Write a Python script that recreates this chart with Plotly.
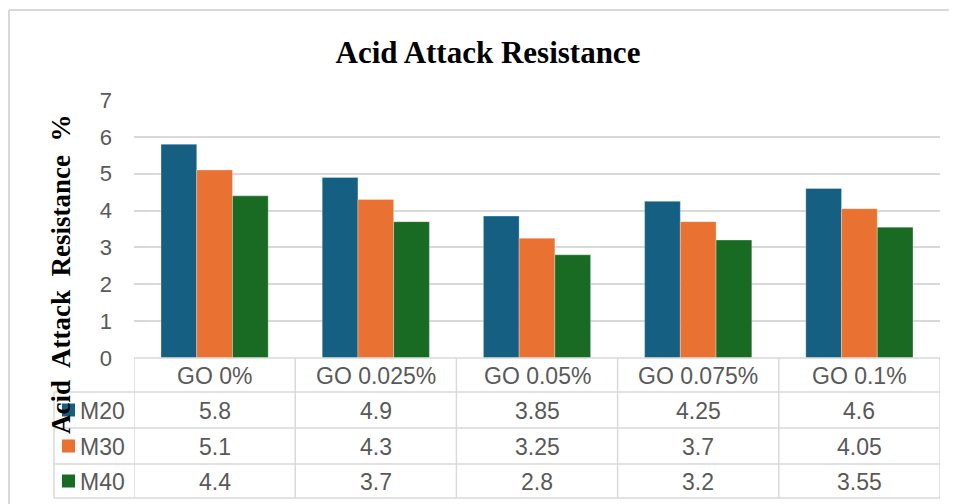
import plotly.graph_objects as go

categories = ["GO 0%", "GO 0.025%", "GO 0.05%", "GO 0.075%", "GO 0.1%"]
series_names = ["M20", "M30", "M40"]
m20 = [5.8, 4.9, 3.85, 4.25, 4.6]
m30 = [5.1, 4.3, 3.25, 3.7, 4.05]
m40 = [4.4, 3.7, 2.8, 3.2, 3.55]
series_values = [m20, m30, m40]
colors = ["#156082", "#E97132", "#196B24"]
y_ticks = [0, 1, 2, 3, 4, 5, 6, 7]

OFF = 8  # page body margin
W, H = 957 - OFF, 504 - OFF
L, R, T, B = 134 - OFF, 17, 100 - OFF, 146
PW = W - L - R
PH = H - T - B
GRID = "#D9D9D9"
TXT = "#595959"
SANS = "Liberation Sans, Arial, sans-serif"
SERIF = "Liberation Serif, Times New Roman, serif"


def py(p):  # reference pixel y -> paper y
    return (H - B - (p - OFF)) / PH


def px(p):  # reference pixel x -> paper x
    return ((p - OFF) - L) / PW


fig = go.Figure()
for name, vals, col in zip(series_names, series_values, colors):
    fig.add_trace(go.Bar(x=list(range(len(categories))), y=vals, name=name,
                         marker=dict(color=col, line=dict(width=0.6, color="rgba(255,255,255,0.5)")),
                         showlegend=False))

shapes = []
annotations = []
row_edges = [358, 392, 428, 464, 498]
n = len(categories)

# table horizontal lines
shapes.append(dict(type="line", xref="paper", yref="paper", x0=px(134), x1=px(940),
                   y0=py(358), y1=py(358), line=dict(color=GRID, width=1.5)))
for e in row_edges[1:]:
    shapes.append(dict(type="line", xref="paper", yref="paper", x0=px(54), x1=px(940),
                       y0=py(e), y1=py(e), line=dict(color=GRID, width=1.5)))
# table vertical lines
for j in range(n + 1):
    shapes.append(dict(type="line", xref="x", yref="paper", x0=j - 0.5, x1=j - 0.5,
                       y0=py(358), y1=py(498), line=dict(color=GRID, width=1.5)))
shapes.append(dict(type="line", xref="paper", yref="paper", x0=px(54), x1=px(54),
                   y0=py(392), y1=py(498), line=dict(color=GRID, width=1.5)))

FS = 23
# header
for j, c in enumerate(categories):
    annotations.append(dict(x=j, y=py(376), xref="x", yref="paper", text=c, showarrow=False,
                            font=dict(family=SANS, size=FS, color=TXT), yanchor="middle"))
# rows
for i, (name, vals, col) in enumerate(zip(series_names, series_values, colors)):
    yc = (row_edges[i + 1] + row_edges[i + 2]) / 2
    shapes.append(dict(type="rect", xref="paper", yref="paper", x0=px(62), x1=px(75),
                       y0=py(yc - 6.5), y1=py(yc + 6.5), fillcolor=col, line=dict(width=0)))
    annotations.append(dict(x=px(78), y=py(yc + 1), xref="paper", yref="paper", text=name,
                            showarrow=False, xanchor="left", yanchor="middle",
                            font=dict(family=SANS, size=FS, color=TXT)))
    for j, v in enumerate(vals):
        annotations.append(dict(x=j, y=py(yc + 1), xref="x", yref="paper", text=str(v),
                                showarrow=False, yanchor="middle",
                                font=dict(family=SANS, size=FS, color=TXT)))

# outer border
shapes.append(dict(type="line", xref="paper", yref="paper", x0=px(9), x1=px(957),
                   y0=py(10), y1=py(10), line=dict(color=GRID, width=2)))
shapes.append(dict(type="line", xref="paper", yref="paper", x0=px(9), x1=px(9),
                   y0=py(10), y1=py(504), line=dict(color=GRID, width=2)))

# y axis title
annotations.append(dict(x=px(61), y=py(275), xref="paper", yref="paper",
                        text="<b>Acid  Attack  Resistance  %</b>", textangle=-90, showarrow=False,
                        font=dict(family=SERIF, size=27, color="#000000"),
                        xanchor="center", yanchor="middle"))

fig.update_layout(
    width=W, height=H,
    margin=dict(l=L, r=R, t=T, b=B, pad=0),
    paper_bgcolor="white", plot_bgcolor="white",
    barmode="group", bargap=0.335, bargroupgap=0,
    title=dict(text="<b>Acid Attack Resistance</b>", x=(488 - OFF) / W, xanchor="center",
               y=1 - (52 - OFF) / H, yanchor="middle", yref="container",
               font=dict(family=SERIF, size=31, color="#000000")),
    xaxis=dict(range=[-0.5, n - 0.5], showticklabels=False, showgrid=False,
               zeroline=False, showline=False, fixedrange=True),
    yaxis=dict(range=[0, 7], tickvals=y_ticks, showgrid=True, gridcolor=GRID, gridwidth=1.5,
               zeroline=False, showline=False, ticks="", ticklabelstandoff=21,
               tickfont=dict(family=SANS, size=22, color=TXT)),
    shapes=shapes, annotations=annotations,
)

fig.write_html("out.html")
